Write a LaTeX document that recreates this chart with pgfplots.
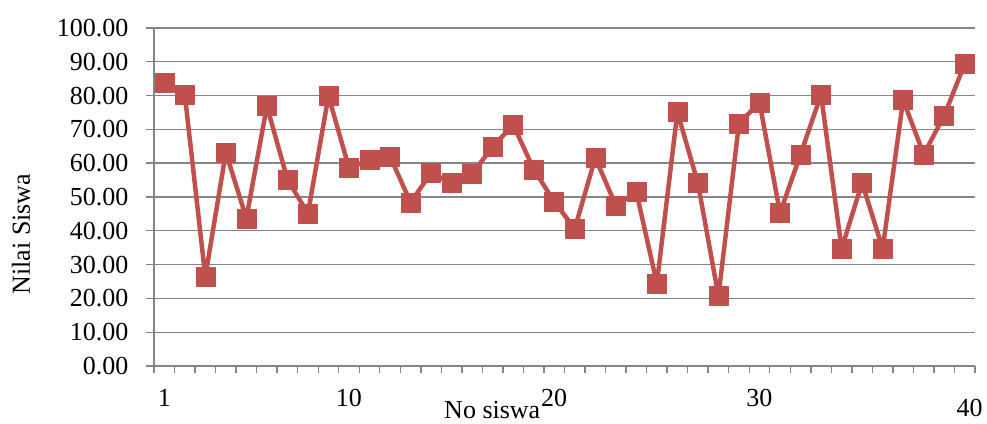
\documentclass[border=0pt]{standalone}
\usepackage{pgfplots}
\pgfplotsset{compat=1.18}
\usepackage{fontspec}
\setmainfont{Liberation Serif}
\definecolor{serred}{RGB}{192,80,77}
\definecolor{axgray}{RGB}{134,134,134}
\begin{document}
\begin{tikzpicture}
\useasboundingbox (-154bp,-58bp) rectangle (833bp,366bp);
\begin{axis}[
  at={(0,0)}, anchor=south west,
  scale only axis,
  width=821bp, height=338bp,
  xmin=0.5, xmax=40.5,
  ymin=0, ymax=100,
  axis lines*=left,
  axis line style={draw=axgray, line width=1.4bp},
  xtick={1,10,20,30},
  extra x ticks={40},
  extra x tick style={xticklabel style={xshift=5bp, yshift=-10bp}},
  minor xtick={0.5,1.5,...,40.5},
  ytick={0,10,...,100},
  tick align=outside,
  major tick length=8bp,
  minor tick length=7bp,
  major x tick style={draw=none},
  every tick/.style={draw=axgray, line width=1.4bp},
  ymajorgrids,
  grid style={draw=axgray, line width=1.4bp},
  tick label style={font=\fontsize{26bp}{30bp}\selectfont},
  yticklabel style={xshift=-14bp, /pgf/number format/.cd, fixed, fixed zerofill, precision=2, assume math mode=true},
  xticklabel style={yshift=-12bp, /pgf/number format/assume math mode=true},
  every axis x label/.style={at={(rel axis cs:0.412,0)}, anchor=base, yshift=-52bp, font=\fontsize{26bp}{30bp}\selectfont},
  every axis y label/.style={at={(rel axis cs:0,0.39)}, xshift=-133bp, rotate=90, anchor=center, font=\fontsize{26bp}{30bp}\selectfont},
  xlabel={No siswa},
  ylabel={Nilai Siswa},
  clip=false,
]
\addplot[color=serred, line width=4.5bp, line join=round, mark=square*, mark size=9.5bp,
  mark options={fill=serred, draw=serred, line width=0.5bp}]
  coordinates {
  (1,83.8) (2,80.3) (3,26.4) (4,63.2) (5,43.7) (6,76.9) (7,55.2) (8,45.1)
  (9,79.9) (10,58.6) (11,61.0) (12,62.0) (13,48.4) (14,57.1) (15,54.1)
  (16,56.9) (17,64.8) (18,71.4) (19,58.2) (20,48.6) (21,40.6) (22,61.6)
  (23,47.5) (24,51.5) (25,24.4) (26,75.1) (27,54.1) (28,20.7) (29,71.7)
  (30,78.0) (31,45.3) (32,62.6) (33,80.3) (34,34.7) (35,54.2) (36,34.7)
  (37,78.7) (38,62.6) (39,74.1) (40,89.4)
  };
\end{axis}
\end{tikzpicture}
\end{document}
